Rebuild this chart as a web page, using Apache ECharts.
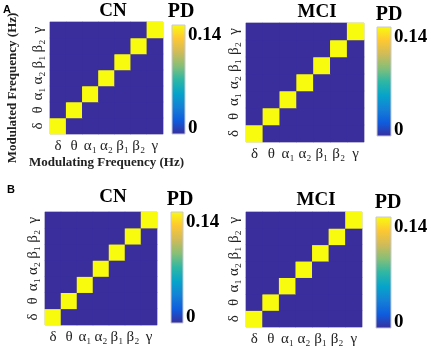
<!DOCTYPE html>
<html><head><meta charset="utf-8">
<script src="https://cdn.jsdelivr.net/npm/echarts@6/dist/echarts.min.js"></script>
<style>html,body{margin:0;padding:0;background:#fff}#c{width:431px;height:348px}</style>
</head><body><div id="c"></div>
<script>
// ---- data ----
const bands = ['δ', 'θ', 'α₁', 'α₂', 'β₁', 'β₂', 'γ'];
const panelTitles = ['CN', 'MCI', 'CN', 'MCI'];
const sectionLabels = ['A', 'B'];
const cbTitle = 'PD';
const cbTicks = [0, 0.14];
const xName = 'Modulating Frequency (Hz)';
const yName = 'Modulated Frequency (Hz)';
// rows: modulated band (δ..γ, bottom to top); columns: modulating band (δ..γ)
const cnA = [
  [0.14, 0, 0, 0, 0, 0, 0],
  [0, 0.14, 0, 0, 0, 0, 0],
  [0, 0, 0.14, 0, 0, 0, 0],
  [0, 0, 0, 0.14, 0, 0, 0],
  [0, 0, 0, 0, 0.14, 0, 0],
  [0, 0, 0, 0, 0, 0.14, 0],
  [0, 0, 0, 0, 0, 0, 0.14]
];
const mciA = [
  [0.14, 0, 0, 0, 0, 0, 0],
  [0, 0.14, 0, 0, 0, 0, 0],
  [0, 0, 0.14, 0, 0, 0, 0],
  [0, 0, 0, 0.14, 0, 0, 0],
  [0, 0, 0, 0, 0.14, 0, 0],
  [0, 0, 0, 0, 0, 0.14, 0],
  [0, 0, 0, 0, 0, 0, 0.14]
];
const cnB = [
  [0.14, 0, 0, 0, 0, 0, 0],
  [0, 0.14, 0, 0, 0, 0, 0],
  [0, 0, 0.14, 0, 0, 0, 0],
  [0, 0, 0, 0.14, 0, 0, 0],
  [0, 0, 0, 0, 0.14, 0, 0],
  [0, 0, 0, 0, 0, 0.14, 0],
  [0, 0, 0, 0, 0, 0, 0.14]
];
const mciB = [
  [0.14, 0, 0, 0, 0, 0, 0],
  [0, 0.14, 0, 0, 0, 0, 0],
  [0, 0, 0.14, 0, 0, 0, 0],
  [0, 0, 0, 0.14, 0, 0, 0],
  [0, 0, 0, 0, 0.14, 0, 0],
  [0, 0, 0, 0, 0, 0.14, 0],
  [0, 0, 0, 0, 0, 0, 0.14]
];
const matrices = [cnA, mciA, cnB, mciB];

// ---- style / layout ----
const parula = ['#3a2d9c', '#0f5cdd', '#1481d6', '#06a4ca', '#2eb7a4', '#87bf77', '#d1bb59', '#fec832', '#f9fb0e'];
const serif = 'Liberation Serif';
const layout = [
  {grid: [50, 22, 113, 112], cb: [172, 25, 13, 109], title: [113, 11], pd: [181, 12], names: true},
  {grid: [246, 23, 118, 119], cb: [377, 27, 14, 109], title: [317, 12], pd: [389, 15], names: false},
  {grid: [45, 212, 112, 113], cb: [171, 212, 12, 111], title: [113, 197], pd: [180, 200], names: false},
  {grid: [246, 212, 116, 115], cb: [376, 217, 15, 111], title: [316, 200], pd: [388, 203], names: false}
];
const sectionPos = [[3, 10], [7, 190]];

const grids = [], xAxes = [], yAxes = [], series = [], graphics = [];
const gradStops = parula.map((c, i) => ({offset: i / (parula.length - 1), color: c}));

layout.forEach((L, p) => {
  // heatmap grid
  grids.push({left: L.grid[0], top: L.grid[1], width: L.grid[2], height: L.grid[3], containLabel: false,
    show: true, borderColor: '#c8c8d4', borderWidth: 1, backgroundColor: parula[0]});
  const gi = grids.length - 1;
  xAxes.push({type: 'category', gridIndex: gi, data: bands, position: 'bottom',
    axisLine: {show: false}, axisTick: {show: false}, splitLine: {show: false},
    axisLabel: {interval: 0, margin: 5, fontFamily: serif, fontSize: 15, color: '#222'},
    name: L.names ? xName : '', nameLocation: 'middle', nameGap: 22,
    nameTextStyle: {fontFamily: serif, fontWeight: 'bold', fontSize: 13, color: '#222'}});
  yAxes.push({type: 'category', gridIndex: gi, data: bands,
    axisLine: {show: false}, axisTick: {show: false}, splitLine: {show: false},
    axisLabel: {interval: 0, rotate: 90, margin: 4, fontFamily: serif, fontSize: 15, color: '#222'},
    name: L.names ? yName : '', nameLocation: 'middle', nameGap: 31,
    nameTextStyle: {fontFamily: serif, fontWeight: 'bold', fontSize: 13, color: '#222', padding: [0, 20, 0, 0]}});
  const M = matrices[p];
  const data = [];
  M.forEach((row, yi) => row.forEach((v, xi) => data.push([xi, yi, v])));
  series.push({type: 'heatmap', xAxisIndex: gi, yAxisIndex: gi, data: data,
    itemStyle: {borderWidth: 0}, emphasis: {disabled: true}, progressive: 0});

  // colorbar grid
  grids.push({left: L.cb[0], top: L.cb[1], width: L.cb[2], height: L.cb[3], containLabel: false,
    show: true, borderColor: '#c8c8d4', borderWidth: 1,
    backgroundColor: {type: 'linear', x: 0, y: 1, x2: 0, y2: 0, colorStops: gradStops}});
  const ci = grids.length - 1;
  xAxes.push({type: 'value', gridIndex: ci, show: false, min: 0, max: 1});
  yAxes.push({type: 'value', gridIndex: ci, position: 'right', min: -0.009, max: 0.155,
    axisLine: {show: false}, splitLine: {show: false},
    axisTick: {show: false},
    axisLabel: {customValues: cbTicks, margin: 3, fontFamily: serif, fontWeight: 'bold', fontSize: 19, color: '#000',
      formatter: v => (v === 0 ? '0' : v.toFixed(2))}});

  graphics.push({type: 'text', x: L.title[0], y: L.title[1],
    style: {text: panelTitles[p], align: 'center', verticalAlign: 'middle', font: 'bold 19px "Liberation Serif"', fill: '#000'}});
  graphics.push({type: 'text', x: L.pd[0], y: L.pd[1],
    style: {text: cbTitle, align: 'center', verticalAlign: 'middle', font: 'bold 20px "Liberation Serif"', fill: '#000'}});
});
sectionLabels.forEach((s, i) => {
  graphics.push({type: 'text', x: sectionPos[i][0], y: sectionPos[i][1],
    style: {text: s, align: 'left', verticalAlign: 'middle', font: 'bold 11px "Liberation Sans"', fill: '#000'}});
});

const chart = echarts.init(document.getElementById('c'), null, {renderer: 'canvas'});
chart.setOption({
  animation: false,
  backgroundColor: '#fff',
  grid: grids, xAxis: xAxes, yAxis: yAxes, series: series,
  visualMap: {type: 'continuous', show: false, min: 0, max: 0.14, seriesIndex: [0, 1, 2, 3],
    inRange: {color: parula}},
  graphic: graphics
});
</script></body></html>
